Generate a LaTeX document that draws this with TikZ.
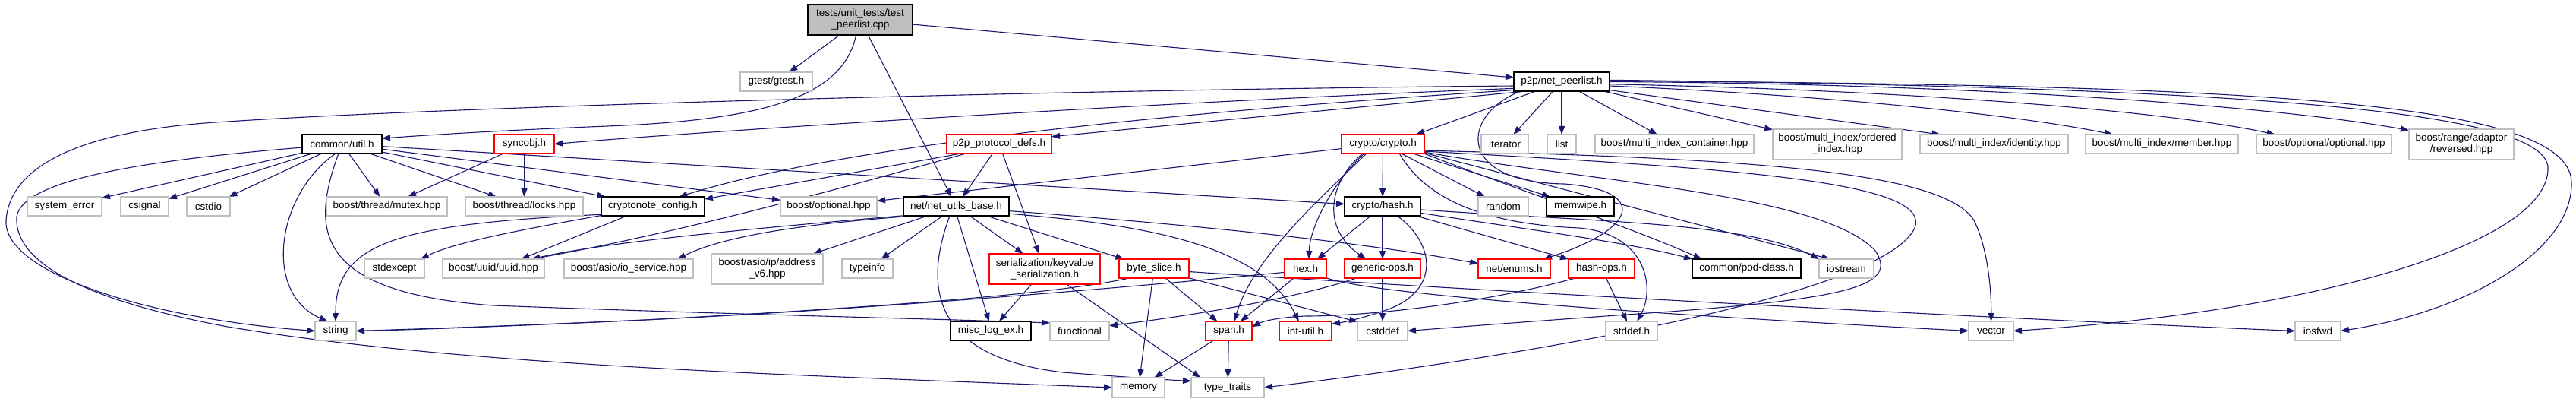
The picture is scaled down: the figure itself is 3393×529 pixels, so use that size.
\documentclass[tikz,border=0pt]{standalone}
\usepackage{fontspec}
\setmainfont{Liberation Sans}
\usetikzlibrary{arrows.meta}
\pgfdeclarelayer{bg}
\pgfsetlayers{bg,main}
\definecolor{edgec}{RGB}{25,25,112}
\definecolor{grayb}{RGB}{191,191,191}
\definecolor{redb}{RGB}{255,0,0}
\begin{document}
\begin{tikzpicture}[x=1pt,y=-1pt,
  every node/.style={inner sep=0pt, outer sep=0pt, font=\fontsize{13.5}{15}\selectfont, align=center, line width=1.1pt, fill=white, rectangle},
  blackbox/.style={draw=black, minimum height=25pt},
  graybox/.style={draw=grayb, minimum height=25pt},
  redbox/.style={draw=redb, minimum height=25pt},
  rootbox/.style={draw=black, fill=grayb, minimum height=40pt},
  dep/.style={draw=edgec, line width=1.1pt, -{Triangle[length=11pt,width=8pt]}}]
\useasboundingbox (0,0) rectangle (3393,529);
% row 0
\node[rootbox, minimum width=138pt] (T) at (1133,26) {tests/unit\_tests/test\\\_peerlist.cpp};
% row 1
\node[graybox, minimum width=95pt] (gtest) at (1022.5,107.5) {gtest/gtest.h};
\node[blackbox, minimum width=126pt] (NP) at (2057,107.5) {p2p/net\_peerlist.h};
% row 2
\node[blackbox, minimum width=105pt] (U) at (450.5,189.5) {common/util.h};
\node[redbox, minimum width=79pt] (SY) at (690.5,189.5) {syncobj.h};
\node[redbox, minimum width=138pt] (PD) at (1316,189.5) {p2p\_protocol\_defs.h};
\node[redbox, minimum width=109pt] (CC) at (1821.5,189.5) {crypto/crypto.h};
\node[graybox, minimum width=62pt] (iterator) at (1982,189.5) {iterator};
\node[graybox, minimum width=38pt] (list) at (2057,189.5) {list};
\node[graybox, minimum width=209pt] (MIC) at (2205.5,189.5) {boost/multi\_index\_container.hpp};
\node[graybox, minimum width=170pt, minimum height=40pt] (ordered) at (2420,190) {boost/multi\_index/ordered\\\_index.hpp};
\node[graybox, minimum width=195pt] (identity) at (2626.5,189.5) {boost/multi\_index/identity.hpp};
\node[graybox, minimum width=201pt] (member) at (2847.5,189.5) {boost/multi\_index/member.hpp};
\node[graybox, minimum width=178pt] (optopt) at (3061,189.5) {boost/optional/optional.hpp};
\node[graybox, minimum width=138pt, minimum height=40pt] (reversed) at (3242,190) {boost/range/adaptor\\/reversed.hpp};
% row 3
\node[graybox, minimum width=98pt] (syserr) at (85,271.5) {system\_error};
\node[graybox, minimum width=63pt] (csignal) at (190.5,271.5) {csignal};
\node[graybox, minimum width=57pt] (cstdio) at (274.5,271.5) {cstdio};
\node[graybox, minimum width=159pt] (mutex) at (509.5,271.5) {boost/thread/mutex.hpp};
\node[graybox, minimum width=155pt] (locks) at (690.5,271.5) {boost/thread/locks.hpp};
\node[blackbox, minimum width=136pt] (CFG) at (860,271.5) {cryptonote\_config.h};
\node[graybox, minimum width=127pt] (opt) at (1091.5,271.5) {boost/optional.hpp};
\node[blackbox, minimum width=139pt] (NB) at (1259.5,271.5) {net/net\_utils\_base.h};
\node[blackbox, minimum width=100pt] (hashh) at (1821,271.5) {crypto/hash.h};
\node[graybox, minimum width=66pt] (random) at (1980,271.5) {random};
\node[blackbox, minimum width=89pt] (memwipe) at (2081.5,271.5) {memwipe.h};
% row 4
\node[graybox, minimum width=79pt] (stdexcept) at (519.5,353.5) {stdexcept};
\node[graybox, minimum width=134pt] (uuid) at (650,353.5) {boost/uuid/uuid.hpp};
\node[graybox, minimum width=170pt] (ioserv) at (828,353.5) {boost/asio/io\_service.hpp};
\node[graybox, minimum width=147pt, minimum height=40pt] (addr) at (1010.5,354) {boost/asio/ip/address\\\_v6.hpp};
\node[graybox, minimum width=67pt] (typeinfo) at (1142.5,353.5) {typeinfo};
\node[redbox, minimum width=146pt, minimum height=40pt] (KS) at (1376,354) {serialization/keyvalue\\\_serialization.h};
\node[redbox, minimum width=92pt] (byteslice) at (1520,353.5) {byte\_slice.h};
\node[redbox, minimum width=55pt] (hexh) at (1719.5,353.5) {hex.h};
\node[redbox, minimum width=100pt] (genops) at (1821,353.5) {generic-ops.h};
\node[redbox, minimum width=95pt] (enums) at (1994.5,353.5) {net/enums.h};
\node[redbox, minimum width=87pt] (hashops) at (2109.5,353.5) {hash-ops.h};
\node[blackbox, minimum width=143pt] (podclass) at (2300.5,353.5) {common/pod-class.h};
\node[graybox, minimum width=72pt] (iostream) at (2432,353.5) {iostream};
% row 5
\node[graybox, minimum width=54pt] (string) at (442,435.5) {string};
\node[blackbox, minimum width=106pt] (misc) at (1305,435.5) {misc\_log\_ex.h};
\node[graybox, minimum width=78pt] (functional) at (1422,435.5) {functional};
\node[redbox, minimum width=61pt] (span) at (1618.5,435.5) {span.h};
\node[redbox, minimum width=69pt] (intutil) at (1719.5,435.5) {int-util.h};
\node[graybox, minimum width=66pt] (cstddef) at (1821,435.5) {cstddef};
\node[graybox, minimum width=68pt] (stddef) at (2149,435.5) {stddef.h};
\node[graybox, minimum width=59pt] (vector) at (2622.5,435.5) {vector};
\node[graybox, minimum width=60pt] (iosfwd) at (3053,435.5) {iosfwd};
% row 6
\node[graybox, minimum width=69pt, minimum height=26pt] (memory) at (1499.5,510) {memory};
\node[graybox, minimum width=96pt, minimum height=26pt] (typetraits) at (1617,510) {type\_traits};

\begin{pgfonlayer}{bg}
% root
\draw[dep] (T) -- (gtest);
\draw[dep] (T) -- (NP);
\draw[dep] (T.255) .. controls (1110,130) and (1000,158) .. (800,166) .. controls (650,172) and (560,178) .. (U.8);
\draw[dep] (T) -- (NB);
% net_peerlist
\draw[dep] (NP) -- (iterator);
\draw[dep] (NP) -- (list);
\draw[dep] (NP) -- (MIC);
\draw[dep] (NP) -- (ordered);
\draw[dep] (NP.-10) -- (identity.170);
\draw[dep] (NP.-5) .. controls (2400,125) and (2650,150) .. (member.169);
\draw[dep] (NP.-3) .. controls (2500,118) and (2850,145) .. (optopt.169);
\draw[dep] (NP.east) .. controls (2600,110) and (3000,140) .. (reversed.165);
\draw[dep] (NP.2) .. controls (2900,115) and (3350,140) .. (3356,220) .. controls (3360,320) and (3050,410) .. (vector.east);
\draw[dep] (NP.1) .. controls (2950,112) and (3385,130) .. (3387,240) .. controls (3389,330) and (3250,410) .. (iosfwd.east);
\draw[dep] (NP.200) -- (CC.16);
\draw[dep] (NP.193) .. controls (1925,150) and (1915,240) .. (2060,242) .. controls (2170,250) and (2160,300) .. (enums.18);
\draw[dep] (NP.185) .. controls (1400,118) and (600,140) .. (300,160) .. controls (80,172) and (12,230) .. (8,290) .. controls (4,360) and (200,420) .. (string.west);
\draw[dep] (NP.188) .. controls (1500,135) and (900,175) .. (SY.east);
\draw[dep] (NP.190) .. controls (1500,150) and (1100,195) .. (CFG.20);
\draw[dep] (NP.195) -- (PD.8);
% common/util.h
\draw[dep] (U) -- (syserr);
\draw[dep] (U) -- (csignal);
\draw[dep] (U) -- (cstdio);
\draw[dep] (U) -- (mutex);
\draw[dep] (U) -- (locks);
\draw[dep] (U) -- (CFG);
\draw[dep] (U) -- (opt);
\draw[dep] (U) -- (hashh);
\draw[dep] (U.236) .. controls (365,255) and (345,385) .. (string.130);
\draw[dep] (U.250) .. controls (410,300) and (410,385) .. (650,402) .. controls (1000,415) and (1250,420) .. (functional.165);
\draw[dep] (U.185) .. controls (200,210) and (30,235) .. (22,285) .. controls (18,345) and (110,395) .. (300,430) .. controls (600,480) and (1000,492) .. (memory.west);
% syncobj
\draw[dep] (SY) -- (mutex);
\draw[dep] (SY) -- (locks);
% p2p_protocol_defs
\draw[dep] (PD.194) -- (CFG.8);
\draw[dep] (PD.196) .. controls (1100,250) and (900,305) .. (uuid.14);
\draw[dep] (PD) -- (NB);
\draw[dep] (PD) -- (KS);
% crypto/crypto.h
\draw[dep] (CC) -- (opt);
\draw[dep] (CC) -- (hashh);
\draw[dep] (CC.207) .. controls (1755,240) and (1725,300) .. (hexh.70);
\draw[dep] (CC.210) .. controls (1740,260) and (1650,340) .. (span.60);
\draw[dep] (CC.205) .. controls (1750,240) and (1740,300) .. (genops.150);
\draw[dep] (CC) -- (random);
\draw[dep] (CC) -- (memwipe);
\draw[dep] (CC.-13) .. controls (2000,250) and (2150,300) .. (podclass.168);
\draw[dep] (CC.-12) -- (iostream.150);
\draw[dep] (CC.-30) .. controls (1880,265) and (1960,295) .. (2080,300) .. controls (2170,308) and (2180,380) .. (stddef.60);
\draw[dep] (CC.-11) .. controls (2100,240) and (2400,255) .. (2470,330) .. controls (2500,375) and (2440,392) .. (2200,410) .. controls (2000,424) and (1900,432) .. (cstddef.east);
\draw[dep] (CC.-9) .. controls (2300,208) and (2560,225) .. (2600,290) .. controls (2620,330) and (2623,390) .. (vector.north);
\draw[dep] (CC.-10) .. controls (2300,222) and (2545,240) .. (2522,300) .. controls (2480,390) and (2000,470) .. (typetraits.east);
% crypto/hash.h
\draw[dep] (hashh) -- (hexh);
\draw[dep] (hashh) -- (genops);
\draw[dep] (hashh) -- (hashops);
\draw[dep] (hashh.-10) .. controls (2000,300) and (2150,320) .. (podclass.north west);
\draw[dep] (hashh.-5) .. controls (2100,292) and (2300,292) .. (iostream.north west);
\draw[dep] (hashh.-33) .. controls (1890,320) and (1900,385) .. (1820,410) .. controls (1790,420) and (1770,424) .. (intutil.15);
% hash-ops.h
\draw[dep] (hashops.200) .. controls (1950,400) and (1800,416) .. (1720,416) .. controls (1690,417) and (1665,422) .. (span.10);
\draw[dep] (hashops) -- (stddef);
% net_utils_base
\draw[dep] (NB.190) .. controls (1000,300) and (800,318) .. (uuid.14);
\draw[dep] (NB.193) .. controls (1050,295) and (950,312) .. (ioserv.11);
\draw[dep] (NB) -- (addr);
\draw[dep] (NB) -- (typeinfo);
\draw[dep] (NB.275) -- (misc.100);
\draw[dep] (NB) -- (KS);
\draw[dep] (NB) -- (byteslice);
\draw[dep] (NB.-5) .. controls (1600,298) and (1800,320) .. (enums.172);
\draw[dep] (NB.-8) .. controls (1500,295) and (1660,320) .. (intutil.125);
\draw[dep] (NB.236) .. controls (1215,380) and (1230,470) .. (1400,490) .. controls (1480,496) and (1540,500) .. (typetraits.170);
% keyvalue serialization
\draw[dep] (KS) -- (misc);
\draw[dep] (KS) -- (typetraits.160);
% byte_slice
\draw[dep] (byteslice) -- (span);
\draw[dep] (byteslice) -- (memory);
\draw[dep] (byteslice.-15) -- (cstddef.160);
\draw[dep] (byteslice.201) .. controls (1400,385) and (1200,402) .. (850,421) .. controls (700,428) and (550,433) .. (string.east);
\draw[dep] (byteslice.-5) .. controls (1900,380) and (2600,418) .. (iosfwd.west);
% hex.h
\draw[dep] (hexh) -- (span);
\draw[dep] (hexh.190) .. controls (1550,372) and (1200,404) .. (850,421) .. controls (700,428) and (550,434) .. (string.east);
\draw[dep] (hexh.-24) .. controls (1800,385) and (2100,410) .. (vector.west);
% generic-ops
\draw[dep] (genops) -- (cstddef);
\draw[dep] (genops.200) .. controls (1700,395) and (1550,418) .. (functional.10);
% span
\draw[dep] (span) -- (memory);
\draw[dep] (span) -- (typetraits);
% cryptonote_config
\draw[dep] (CFG.200) -- (uuid.19);
\draw[dep] (CFG.190) .. controls (700,300) and (600,318) .. (stdexcept.20);
\draw[dep] (CFG.189) .. controls (520,295) and (442,320) .. (string.north);
\end{pgfonlayer}
\end{tikzpicture}
\end{document}
